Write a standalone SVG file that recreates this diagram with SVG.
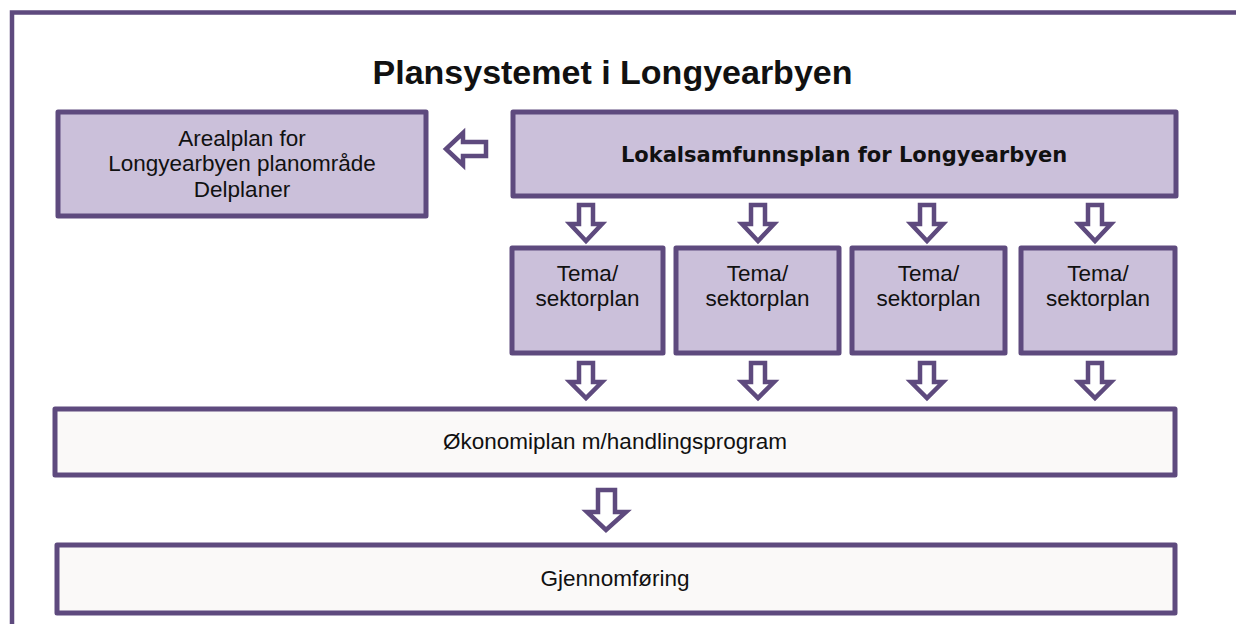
<svg xmlns="http://www.w3.org/2000/svg" width="1236" height="624" viewBox="0 0 1236 624">
<style>
.box{fill:#cbc0da;stroke:#5e4a7e;stroke-width:5;stroke-linejoin:round}
.lbox{fill:#faf9f8;stroke:#5e4a7e;stroke-width:5;stroke-linejoin:round}
.arr{fill:#ffffff;stroke:#5e4a7e;stroke-width:4.5;stroke-linejoin:miter}
.t{font-family:"Liberation Sans",Arial,sans-serif;font-size:22.5px;fill:#111;text-anchor:middle}
</style>
<rect width="1236" height="624" fill="#ffffff"/>
<path d="M12,624 V12.5 H1236" fill="none" stroke="#5e4a7e" stroke-width="4.5"/>
<text x="612.5" y="84" font-family="Liberation Sans,Arial,sans-serif" font-weight="bold" font-size="34" fill="#111" text-anchor="middle">Plansystemet i Longyearbyen</text>
<g id="arealplan">
<rect class="box" x="58" y="112" width="368" height="104"/>
<text class="t" x="242" y="146">Arealplan for</text>
<text class="t" x="242" y="171">Longyearbyen planområde</text>
<text class="t" x="242" y="197">Delplaner</text>
</g>
<g id="lokalsamfunnsplan">
<rect class="box" x="513" y="112" width="663" height="84"/>
<text x="844" y="162" font-family="DejaVu Sans,Verdana,sans-serif" font-weight="bold" font-size="21" fill="#111" text-anchor="middle">Lokalsamfunnsplan for Longyearbyen</text>
</g>
<g id="tema1">
<rect class="box" x="512" y="248" width="151" height="105"/>
<text class="t" x="587.5" y="281">Tema/</text>
<text class="t" x="587.5" y="306">sektorplan</text>
</g>
<g id="tema2">
<rect class="box" x="676" y="248" width="163" height="105"/>
<text class="t" x="757.5" y="281">Tema/</text>
<text class="t" x="757.5" y="306">sektorplan</text>
</g>
<g id="tema3">
<rect class="box" x="852" y="248" width="153" height="105"/>
<text class="t" x="928.5" y="281">Tema/</text>
<text class="t" x="928.5" y="306">sektorplan</text>
</g>
<g id="tema4">
<rect class="box" x="1021" y="248" width="154" height="105"/>
<text class="t" x="1098" y="281">Tema/</text>
<text class="t" x="1098" y="306">sektorplan</text>
</g>
<g id="okonomiplan">
<rect class="lbox" x="55" y="409" width="1120" height="66"/>
<text class="t" x="615" y="449">Økonomiplan m/handlingsprogram</text>
</g>
<g id="gjennomforing">
<rect class="lbox" x="57" y="545" width="1118" height="68"/>
<text class="t" x="615" y="586">Gjennomføring</text>
</g>
<g id="connectors">
<path class="arr" d="M486,142 H463 V133 L446,149 L463,165 V156 H486 Z"/>
<path class="arr" d="M579,205 V224 H570 L586,241 L602,224 H593 V205 Z"/>
<path class="arr" d="M751,205 V224 H742 L758,241 L774,224 H765 V205 Z"/>
<path class="arr" d="M920,205 V224 H911 L927,241 L943,224 H934 V205 Z"/>
<path class="arr" d="M1088,205 V224 H1079 L1095,241 L1111,224 H1102 V205 Z"/>
<path class="arr" d="M579,363 V382 H570 L586,398 L602,382 H593 V363 Z"/>
<path class="arr" d="M751,363 V382 H742 L758,398 L774,382 H765 V363 Z"/>
<path class="arr" d="M920,363 V382 H911 L927,398 L943,382 H934 V363 Z"/>
<path class="arr" d="M1088,363 V382 H1079 L1095,398 L1111,382 H1102 V363 Z"/>
<path class="arr" d="M598,490 V512 H587 L606,530 L626,512 H615 V490 Z"/>
</g>
</svg>
